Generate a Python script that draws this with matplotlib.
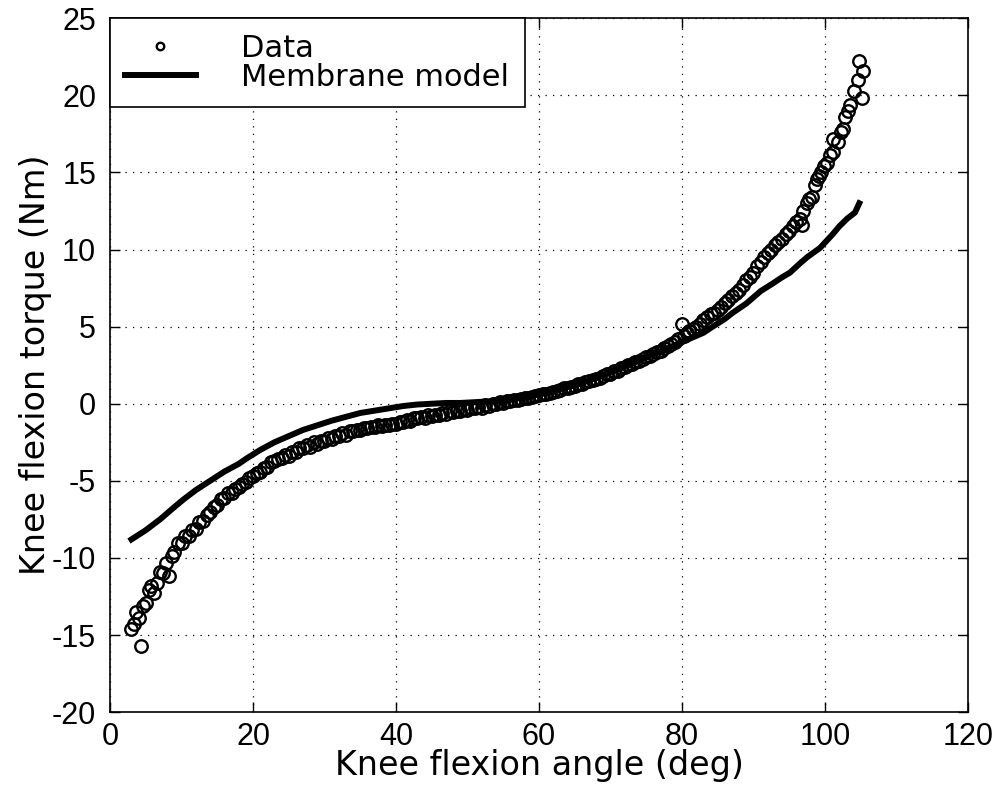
import matplotlib.pyplot as plt

plt.rcParams['font.family'] = ['Liberation Sans', 'DejaVu Sans']
plt.rcParams['axes.unicode_minus'] = False

# measured torque (open circles)
data_x = [3.0, 3.3, 3.6, 4.0, 4.3, 4.6, 5.0, 5.4, 5.8, 6.2, 6.6, 7.0, 7.4, 7.8, 8.2,
          8.6, 9.0, 9.5, 10.0, 10.5, 11.0, 11.5, 12.0, 12.5, 13.0, 13.5, 14.0, 14.5,
          15.0, 15.5, 16.0, 16.5, 17.0, 17.5, 18.0, 18.5, 19.0, 19.5, 20.0, 20.5,
          21.0, 21.5, 22.0, 22.5, 23.0, 23.5, 24.0, 24.5, 25.0, 25.5, 26.0, 26.5,
          27.0, 27.5, 28.0, 28.5, 29.0, 29.5, 30.0, 30.5, 31.0, 31.5, 32.0, 32.5,
          33.0, 33.5, 34.0, 34.5, 35.0, 35.5, 36.0, 36.5, 37.0, 37.5, 38.0, 38.5,
          39.0, 39.5, 40.0, 40.5, 41.0, 41.5, 42.0, 42.5, 43.0, 43.5, 44.0, 44.5,
          45.0, 45.5, 46.0, 46.5, 47.0, 47.5, 48.0, 48.5, 49.0, 49.5, 50.0, 50.5,
          51.0, 51.5, 52.0, 52.5, 53.0, 53.5, 54.0, 54.5, 55.0, 55.5, 56.0, 56.5,
          57.0, 57.5, 58.0, 58.5, 59.0, 59.5, 60.0, 60.5, 61.0, 61.5, 62.0, 62.5,
          63.0, 63.5, 64.0, 64.5, 65.0, 65.5, 66.0, 66.5, 67.0, 67.5, 68.0, 68.5,
          69.0, 69.5, 70.0, 70.5, 71.0, 71.5, 72.0, 72.5, 73.0, 73.5, 74.0, 74.5,
          75.0, 75.5, 76.0, 76.5, 77.0, 77.5, 78.0, 78.5, 79.0, 79.5, 80.0, 80.3,
          80.7, 81.0, 81.5, 82.0, 82.5, 83.0, 83.5, 84.0, 84.5, 85.0, 85.5, 86.0,
          86.5, 87.0, 87.5, 88.0, 88.5, 89.0, 89.5, 90.0, 90.5, 91.0, 91.5, 92.0,
          92.5, 93.0, 93.5, 94.0, 94.5, 95.0, 95.5, 96.0, 96.5, 96.8, 97.0, 97.5,
          97.8, 98.2, 98.6, 98.9, 99.2, 99.5, 99.9, 100.3, 100.7, 101.1, 101.1,
          101.8, 102.2, 102.5, 102.8, 103.2, 103.5, 104.0, 105.2, 104.8, 105.3, 104.6]
data_y = [-14.6, -14.3, -13.5, -13.9, -15.7, -13.1, -12.9, -12.1, -11.8, -12.3, -11.6,
          -10.9, -11.0, -10.3, -11.2, -9.9, -9.6, -9.0, -9.0, -8.6, -8.6, -8.2, -8.1,
          -7.7, -7.6, -7.2, -7.0, -6.7, -6.6, -6.2, -6.1, -5.8, -5.8, -5.5, -5.4, -5.2,
          -5.1, -4.8, -4.7, -4.5, -4.4, -4.2, -4.1, -3.8, -3.7, -3.6, -3.5, -3.3, -3.4,
          -3.1, -3.1, -2.9, -2.9, -2.7, -2.8, -2.5, -2.6, -2.4, -2.4, -2.2, -2.3, -2.1,
          -2.1, -1.9, -2.0, -1.8, -1.8, -1.7, -1.7, -1.6, -1.6, -1.5, -1.5, -1.4,
          -1.45, -1.35, -1.4, -1.3, -1.3, -1.2, -1.2, -1.05, -1.1, -0.95, -0.95, -0.85,
          -0.9, -0.75, -0.8, -0.7, -0.7, -0.6, -0.65, -0.5, -0.55, -0.45, -0.45, -0.35,
          -0.4, -0.3, -0.3, -0.2, -0.25, -0.1, -0.15, 0.0, -0.05, 0.1, 0.05, 0.15,
          0.15, 0.25, 0.25, 0.3, 0.35, 0.4, 0.45, 0.5, 0.55, 0.6, 0.65, 0.7, 0.75,
          0.85, 0.9, 1.0, 1.0, 1.1, 1.15, 1.25, 1.3, 1.4, 1.45, 1.55, 1.6, 1.7, 1.8,
          1.9, 1.95, 2.1, 2.15, 2.3, 2.35, 2.5, 2.55, 2.7, 2.75, 2.9, 3.0, 3.1, 3.2,
          3.35, 3.45, 3.6, 3.75, 3.9, 4.0, 4.2, 5.2, 4.4, 4.6, 4.7, 4.85, 5.0, 5.2,
          5.4, 5.6, 5.8, 5.9, 6.1, 6.3, 6.5, 6.7, 7.0, 7.2, 7.4, 7.7, 8.0, 8.2, 8.5,
          8.9, 9.2, 9.5, 9.8, 10.0, 10.3, 10.5, 10.7, 11.0, 11.2, 11.5, 11.8, 12.0,
          11.6, 12.5, 13.0, 13.3, 13.4, 14.2, 14.6, 14.8, 15.0, 15.4, 15.6, 16.1,
          16.3, 17.2, 17.0, 17.6, 17.8, 18.6, 19.0, 19.4, 20.3, 19.8, 22.2, 21.6, 21.0]

# membrane model (thick line)
model_x = [3.0, 5, 7, 9, 10.3, 12, 14, 16, 18, 19.1, 21, 23, 25, 27, 29, 31, 33, 35,
           37, 39, 41, 43, 45, 47, 49, 51, 53, 55, 57, 59, 61, 63, 65, 67, 69, 71, 73,
           75, 77, 79, 81, 83, 84.3, 86, 87.1, 89, 90, 91, 92.7, 94, 95.1, 96.5, 97.5,
           99.3, 101.1, 102, 103.1, 104.2, 104.8]
model_y = [-8.8, -8.2, -7.5, -6.7, -6.2, -5.6, -5.0, -4.4, -3.9, -3.55, -3.0, -2.5,
           -2.1, -1.7, -1.4, -1.1, -0.85, -0.6, -0.45, -0.3, -0.15, -0.05, 0.0, 0.05,
           0.05, 0.1, 0.15, 0.2, 0.35, 0.5, 0.7, 0.95, 1.2, 1.5, 1.85, 2.2, 2.6, 3.0,
           3.4, 3.8, 4.2, 4.6, 5.0, 5.5, 5.9, 6.5, 6.9, 7.3, 7.8, 8.2, 8.5, 9.1, 9.5,
           10.1, 11.0, 11.5, 12.0, 12.4, 13.0]

fig = plt.figure(figsize=(10.02, 7.93), dpi=100)
ax = fig.add_axes([0.1098, 0.102, 0.8562, 0.875])

ax.plot(data_x, data_y, linestyle='none', marker='o', markersize=9,
        markerfacecolor='none', markeredgecolor='black', markeredgewidth=1.7,
        label='Data')
ax.plot(model_x, model_y, color='black', linewidth=4.3, label='Membrane model')

ax.set_xlim(0, 120)
ax.set_ylim(-20, 25)
ax.set_xticks([0, 20, 40, 60, 80, 100, 120])
ax.set_yticks([-20, -15, -10, -5, 0, 5, 10, 15, 20, 25])
ax.grid(True, color='black', linestyle=(0, (1, 5)), linewidth=0.9)
ax.tick_params(direction='in', top=True, right=True, length=7, width=1,
               labelsize=22)
ax.tick_params(axis='y', pad=10)
ax.tick_params(axis='x', pad=7)
for s in ax.spines.values():
    s.set_linewidth(1.2)

lab_font = ['DejaVu Sans']
ax.set_xlabel('Knee flexion angle (deg)', fontsize=24, family=lab_font, labelpad=-2)
ax.set_ylabel('Knee flexion torque (Nm)', fontsize=24, family=lab_font, labelpad=0)

leg = ax.legend(loc='upper left', bbox_to_anchor=(0, 1), borderaxespad=0,
                prop={'family': lab_font, 'size': 22},
                fancybox=False, framealpha=1, edgecolor='black',
                handlelength=2.3, labelspacing=0.0, borderpad=0.5,
                handletextpad=1.5, markerscale=0.6)
leg.get_frame().set_linewidth(1.2)

fig.savefig('out.png', dpi=100)
